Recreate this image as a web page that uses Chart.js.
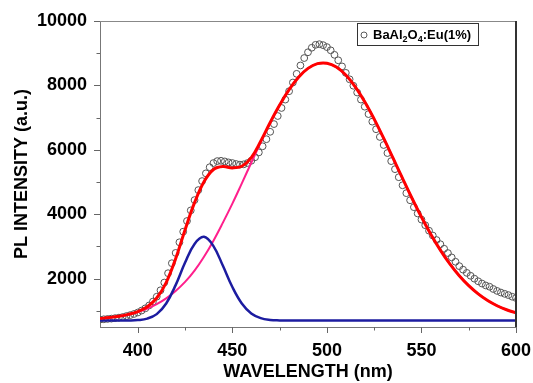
<!DOCTYPE html>
<html>
<head>
<meta charset="utf-8">
<title>BaAl2O4:Eu PL spectrum</title>
<script src="https://cdn.jsdelivr.net/npm/chart.js@4.4.0/dist/chart.umd.min.js"></script>
<style>
  html, body { margin: 0; padding: 0; background: #fff; }
  #wrap { position: relative; width: 533px; height: 383px; }
</style>
</head>
<body>
<div id="wrap"><canvas id="plChart" width="533" height="383"></canvas></div>
<script>
// Medidas (círculos) - comprimento de onda em nm, a cada 2 nm
const WL_MEAS = [
  380, 382, 384, 386, 388, 390, 392, 394, 396, 398,
  400, 402, 404, 406, 408, 410, 412, 414, 416, 418,
  420, 422, 424, 426, 428, 430, 432, 434, 436, 438,
  440, 442, 444, 446, 448, 450, 452, 454, 456, 458,
  460, 462, 464, 466, 468, 470, 472, 474, 476, 478,
  480, 482, 484, 486, 488, 490, 492, 494, 496, 498,
  500, 502, 504, 506, 508, 510, 512, 514, 516, 518,
  520, 522, 524, 526, 528, 530, 532, 534, 536, 538,
  540, 542, 544, 546, 548, 550, 552, 554, 556, 558,
  560, 562, 564, 566, 568, 570, 572, 574, 576, 578,
  580, 582, 584, 586, 588, 590, 592, 594, 596, 598, 600
];
const PL_MEAS = [
  730, 740, 750, 760, 775, 790, 810, 840, 870, 905,
  950, 1010, 1080, 1170, 1290, 1440, 1640, 1880, 2170, 2480,
  2800, 3130, 3460, 3790, 4120, 4440, 4750, 5030, 5270, 5460,
  5590, 5650, 5660, 5640, 5610, 5590, 5560, 5540, 5550, 5590,
  5660, 5770, 5920, 6110, 6330, 6560, 6800, 7050, 7300, 7560,
  7820, 8090, 8360, 8620, 8850, 9030, 9170, 9260, 9280, 9250,
  9190, 9090, 8950, 8780, 8590, 8390, 8190, 7990, 7780, 7560,
  7340, 7110, 6875, 6640, 6400, 6150, 5900, 5650, 5400, 5150,
  4900, 4655, 4435, 4220, 4025, 3835, 3660, 3490, 3340, 3200,
  3070, 2930, 2795, 2660, 2525, 2390, 2280, 2180, 2090, 2000,
  1920, 1850, 1790, 1750, 1680, 1620, 1570, 1530, 1490, 1440, 1400
];

// Curvas de ajuste - a cada 5 nm
const WL_FIT = [
  380, 385, 390, 395, 400, 405, 410, 415, 420, 425,
  430, 435, 440, 445, 450, 455, 460, 465, 470, 475,
  480, 485, 490, 495, 500, 505, 510, 515, 520, 525,
  530, 535, 540, 545, 550, 555, 560, 565, 570, 575,
  580, 585, 590, 595, 600
];
const FIT_TOTAL = [
  765, 795, 835, 893, 980, 1130, 1400, 1880, 2620, 3520,
  4360, 5010, 5390, 5480, 5440, 5490, 5760, 6270, 6850, 7390,
  7870, 8257, 8529, 8676, 8689, 8569, 8321, 7957, 7494, 6955,
  6363, 5741, 5112, 4497, 3913, 3374, 2887, 2459, 2091, 1783,
  1528, 1322, 1160, 1035, 939
];
const FIT_PEAK1 = [
  700, 700, 700, 703, 715, 760, 900, 1230, 1800, 2500,
  3080, 3300, 3010, 2400, 1740, 1230, 920, 775, 720, 705,
  700, 700, 700, 700, 700, 700, 700, 700, 700, 700,
  700, 700, 700, 700, 700, 700, 700, 700, 700, 700,
  700, 700, 700, 700, 700
];
const FIT_PEAK2 = [
  765, 795, 835, 890, 965, 1070, 1210, 1390, 1620, 1900,
  2250, 2680, 3180, 3740, 4330, 4960, 5600, 6230, 6840, 7390,
  7870, 8257, 8529, 8676, 8689, 8569, 8321, 7957, 7494, 6955,
  6363, 5741, 5112, 4497, 3913, 3374, 2887, 2459, 2091, 1783,
  1528, 1322, 1160, 1035, 939
];

// Marcas dos eixos
const X_TICKS = [400, 425, 450, 475, 500, 525, 550, 575, 600];
const X_LABELS = [400, 450, 500, 550, 600];
const Y_TICKS = [1000, 2000, 3000, 4000, 5000, 6000, 7000, 8000, 9000, 10000];
const Y_LABELS = [2000, 4000, 6000, 8000, 10000];

// Legenda com subscritos
const LEGEND_PARTS = [['BaAl', false], ['2', true], ['O', false], ['4', true], [':Eu(1%)', false]];

const FONT = "'Liberation Sans', Arial, sans-serif";
Chart.defaults.font.family = FONT;

function toPoints(xs, ys) {
    return xs.map((x, i) => ({ x: x, y: ys[i] }));
}

// Moldura, marcas menores e legenda em caixa
const framePlugin = {
    id: 'frameAndLegend',
    afterDraw(chart) {
        const ctx = chart.ctx;
        const ca = chart.chartArea;
        const xs = chart.scales.x;
        const ys = chart.scales.y;
        ctx.save();

        // borda superior e direita
        ctx.strokeStyle = '#888';
        ctx.lineWidth = 1;
        ctx.beginPath();
        ctx.moveTo(ca.left, ca.top + 0.5);
        ctx.lineTo(ca.right, ca.top + 0.5);
        ctx.stroke();
        ctx.strokeStyle = '#333';
        ctx.lineWidth = 2;
        ctx.beginPath();
        ctx.moveTo(ca.right, ca.top);
        ctx.lineTo(ca.right, ca.bottom);
        ctx.stroke();

        // marcas dos eixos
        ctx.strokeStyle = '#666';
        ctx.lineWidth = 1;
        ctx.beginPath();
        Y_TICKS.forEach(v => {
            const y = Math.round(ys.getPixelForValue(v)) + 0.5;
            const len = Y_LABELS.includes(v) ? 6 : 3.5;
            ctx.moveTo(ca.left - len, y);
            ctx.lineTo(ca.left, y);
        });
        X_TICKS.forEach(v => {
            const x = Math.round(xs.getPixelForValue(v)) + 0.5;
            const len = X_LABELS.includes(v) ? 6 : 3.5;
            ctx.moveTo(x, ca.bottom);
            ctx.lineTo(x, ca.bottom + len);
        });
        ctx.stroke();

        // legenda
        const bx = ca.right - 159, by = ca.top + 2, bw = 121, bh = 22;
        ctx.fillStyle = '#fff';
        ctx.fillRect(bx, by, bw, bh);
        ctx.strokeStyle = '#333';
        ctx.lineWidth = 1;
        ctx.strokeRect(bx + 0.5, by + 0.5, bw, bh);

        ctx.strokeStyle = '#5a5a5a';
        ctx.beginPath();
        ctx.arc(bx + 7, by + 12, 3, 0, Math.PI * 2);
        ctx.stroke();

        let tx = bx + 16;
        const base = by + 16;
        ctx.fillStyle = '#000';
        ctx.textBaseline = 'alphabetic';
        ctx.textAlign = 'left';
        LEGEND_PARTS.forEach(([txt, sub]) => {
            ctx.font = sub ? 'bold 9px ' + FONT : 'bold 13px ' + FONT;
            ctx.fillText(txt, tx, sub ? base + 3 : base);
            tx += ctx.measureText(txt).width;
        });
        ctx.restore();
    }
};

const ctx = document.getElementById('plChart').getContext('2d');
const plChart = new Chart(ctx, {
    type: 'scatter',
    data: {
        datasets: [
            {
                label: 'BaAl2O4:Eu(1%)',
                data: toPoints(WL_MEAS, PL_MEAS),
                showLine: false,
                pointStyle: 'circle',
                pointRadius: 3.4,
                pointBorderWidth: 1,
                pointBorderColor: '#555',
                pointBackgroundColor: 'rgba(255,255,255,0)',
                order: 3
            },
            {
                type: 'line',
                label: 'Pico 2',
                data: toPoints(WL_FIT, FIT_PEAK2),
                borderColor: '#ff1f8c',
                borderWidth: 2,
                pointRadius: 0,
                tension: 0.4,
                fill: false,
                order: 2
            },
            {
                type: 'line',
                label: 'Pico 1',
                data: toPoints(WL_FIT, FIT_PEAK1),
                borderColor: '#1c1ca0',
                borderWidth: 2.5,
                pointRadius: 0,
                tension: 0.4,
                fill: false,
                order: 1
            },
            {
                type: 'line',
                label: 'Ajuste',
                data: toPoints(WL_FIT, FIT_TOTAL),
                borderColor: '#ff0000',
                borderWidth: 3,
                pointRadius: 0,
                tension: 0.4,
                fill: false,
                order: 0
            }
        ]
    },
    options: {
        responsive: false,
        animation: false,
        devicePixelRatio: 1,
        layout: { padding: { left: 0, right: 17, top: 21, bottom: 0 } },
        plugins: {
            legend: { display: false },
            tooltip: { enabled: false }
        },
        scales: {
            x: {
                type: 'linear',
                min: 380,
                max: 600,
                afterBuildTicks: s => { s.ticks = X_TICKS.map(v => ({ value: v })); },
                afterFit: s => { s.height = 56; s.paddingLeft = 0; s.paddingRight = 0; },
                ticks: {
                    autoSkip: false,
                    maxRotation: 0,
                    padding: 7,
                    color: '#000',
                    font: { size: 18, weight: 'bold' },
                    callback: v => X_LABELS.includes(v) ? String(v) : ''
                },
                grid: { drawOnChartArea: false, color: 'rgba(0,0,0,0)', tickLength: 6 },
                border: { display: true, color: '#777', width: 1 },
                title: {
                    display: true,
                    text: 'WAVELENGTH (nm)',
                    color: '#000',
                    font: { size: 18, weight: 'bold' },
                    padding: { top: 0, bottom: 0 }
                }
            },
            y: {
                type: 'linear',
                min: 500,
                max: 10000,
                afterBuildTicks: s => { s.ticks = Y_TICKS.map(v => ({ value: v })); },
                afterFit: s => { s.width = 100; s.paddingTop = 0; s.paddingBottom = 0; },
                ticks: {
                    autoSkip: false,
                    padding: 7,
                    color: '#000',
                    font: { size: 18, weight: 'bold' },
                    callback: v => Y_LABELS.includes(v) ? String(v) : ''
                },
                grid: { drawOnChartArea: false, color: 'rgba(0,0,0,0)', tickLength: 6 },
                border: { display: true, color: '#777', width: 1 },
                title: {
                    display: true,
                    text: 'PL INTENSITY (a.u.)',
                    color: '#000',
                    font: { size: 18, weight: 'bold' },
                    padding: { top: 11, bottom: 0 }
                }
            }
        }
    },
    plugins: [framePlugin]
});
</script>
</body>
</html>
